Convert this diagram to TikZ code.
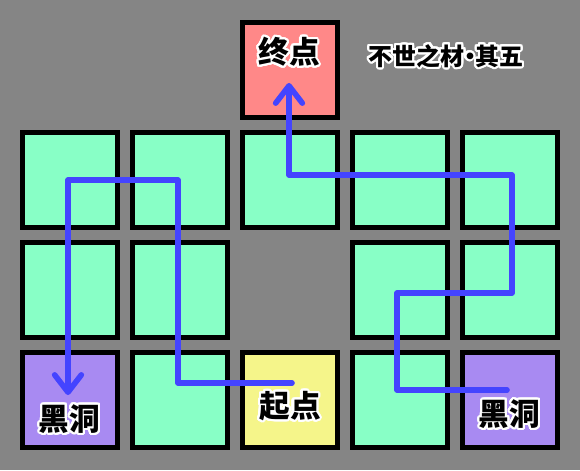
\documentclass[tikz,border=0pt]{standalone}
\usepackage{fontspec}
\newfontfamily\cjk{Noto Sans CJK SC}
\usepackage{contour}
\contourlength{1.6pt}
\contournumber{32}
\newcommand{\middot}{\makebox[0.45em][c]{·}}
\usetikzlibrary{arrows.meta}
\definecolor{bggray}{RGB}{133,133,133}
\definecolor{tilegreen}{RGB}{136,255,198}
\definecolor{tilered}{RGB}{255,136,136}
\definecolor{tileyellow}{RGB}{245,245,138}
\definecolor{tilepurple}{RGB}{168,138,242}
\definecolor{routeblue}{RGB}{68,68,255}
\tikzset{
  tile/.style={draw=black,line width=3.75pt,minimum size=71.25pt,inner sep=0pt},
  biglabel/.style={font=\cjk\bfseries\fontsize{23}{23}\selectfont,inner sep=0pt},
  titlelabel/.style={font=\cjk\bfseries\fontsize{18}{18}\selectfont,inner sep=0pt},
  route/.style={draw=routeblue,line width=4.2pt,line join=round,line cap=round},
  tip/.style={-{Straight Barb[length=13pt,width=20pt,round]}}
}
\begin{document}
\begin{tikzpicture}[x=0.75pt,y=-0.75pt]
  \fill[bggray] (0,0) rectangle (580,470); % background
  \useasboundingbox (0,0) rectangle (580,470);
  % green tiles
  \foreach \n/\x/\y in {a/70/180,b/180/180,c/290/180,d/400/180,e/510/180,
                        f/70/290,g/180/290,h/400/290,i/510/290,
                        j/180/400,k/400/400}
    \node[tile,fill=tilegreen] (\n) at (\x,\y) {};
  \node[tile,fill=tilered] (goal) at (290,70) {}; % end tile
  \node[tile,fill=tileyellow] (start) at (290,400) {}; % start tile
  \node[tile,fill=tilepurple] (holeL) at (70,400) {}; % left black hole
  \node[tile,fill=tilepurple] (holeR) at (510,400) {}; % right black hole
  % route waypoints
  \coordinate (s1) at (292,383);
  \coordinate (s2) at (68,395);
  \coordinate (h1) at (507,390);
  \coordinate (h2) at (289,83);
  \draw[route,tip] (s1) -- (178,383) -- (178,180) -- (68,180) -- (s2); % start to left hole
  \draw[route,tip] (h1) -- (397,390) -- (397,293) -- (512,293) -- (512,175) -- (289,175) -- (h2); % right hole to end
  % labels
  \node[biglabel] (goaltext) at (289,53) {\contour{white}{终点}};
  \node[biglabel] (starttext) at (290,407) {\contour{white}{起点}};
  \node[biglabel] (holeLtext) at (69.5,420) {\contour{white}{黑洞}};
  \node[biglabel] (holeRtext) at (509.5,415) {\contour{white}{黑洞}};
  \node[titlelabel] (title) at (446,57) {\contour{white}{不世之材\middot 其五}};
\end{tikzpicture}
\end{document}
